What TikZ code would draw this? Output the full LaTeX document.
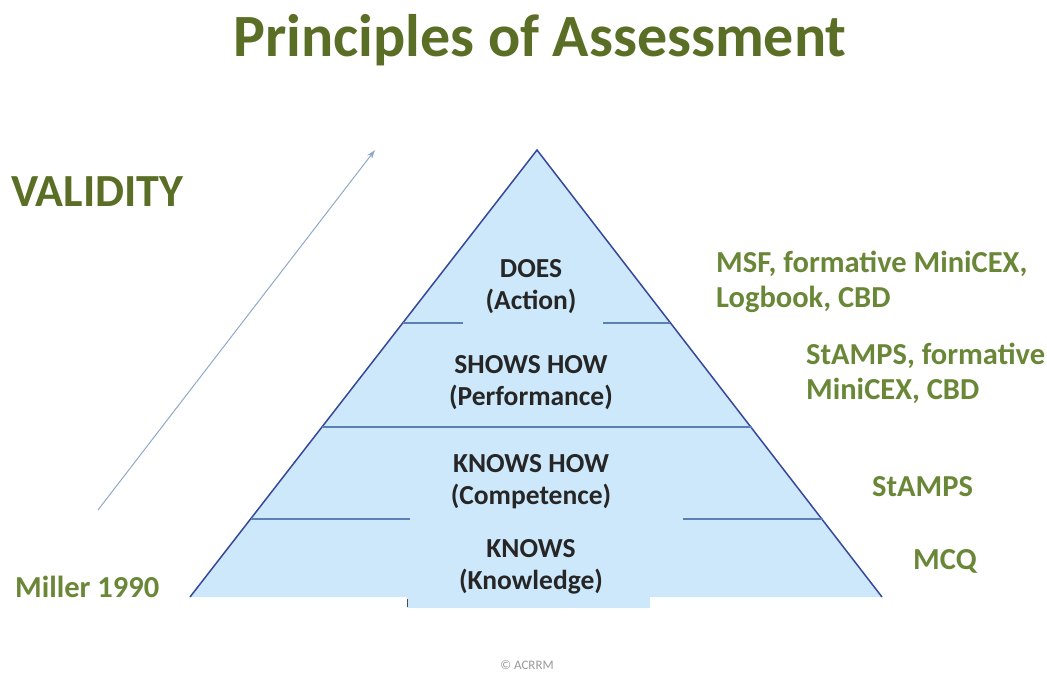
\documentclass[tikz,border=0pt]{standalone}
\usepackage{fontspec}
\setmainfont{Carlito}
\usetikzlibrary{arrows.meta}
\definecolor{titlegreen}{HTML}{5A6F25}
\definecolor{labgreen}{HTML}{6A8738}
\definecolor{pyrfill}{HTML}{CDE8FA}
\definecolor{pyredge}{HTML}{36489A}
\definecolor{divline}{HTML}{5A80B6}
\definecolor{arrowc}{HTML}{90A9C9}
\tikzset{
  pyrtext/.style={font=\bfseries\fontsize{27.5}{32}\selectfont, text=black!85, align=center, inner sep=0pt},
  sidetext/.style={font=\bfseries\fontsize{30.5}{35}\selectfont, text=labgreen, align=left, inner sep=0pt, anchor=west},
  divider/.style={draw=divline, line width=1.3pt},
}
\begin{document}
\begin{tikzpicture}[x=1pt,y=-1pt]
\useasboundingbox (0,0) rectangle (1047,678);
% title
\node[font=\bfseries\fontsize{60}{70}\selectfont, text=titlegreen, inner sep=0pt] (title) at (540,40) {Principles of Assessment};
\node[font=\bfseries\fontsize{46}{52}\selectfont, text=titlegreen, inner sep=0pt, anchor=west] (validity) at (11,192) {VALIDITY};
% arrow
\coordinate (arrA) at (98,510);
\coordinate (arrB) at (375,150);
\draw[arrowc, line width=1pt, -{Stealth[length=9pt,width=6pt]}] (arrA) -- (arrB);
% pyramid
\coordinate (apex) at (537,150);
\coordinate (bl) at (190,597);
\coordinate (br) at (882,597);
\fill[pyrfill] (407,596) rectangle (650,608);
\draw[pyredge, line width=1.5pt, fill=pyrfill, line join=miter] (bl) -- (apex) -- (br);
% dividers
\coordinate (d1l) at (403,323); \coordinate (d1a) at (463,323);
\coordinate (d1b) at (603,323); \coordinate (d1r) at (670,323);
\draw[divider] (d1l) -- (d1a);
\draw[divider] (d1b) -- (d1r);
\coordinate (d2l) at (322,427); \coordinate (d2r) at (752,427);
\draw[divider] (d2l) -- (d2r);
\coordinate (d3l) at (251,519); \coordinate (d3a) at (410,519);
\coordinate (d3b) at (683,519); \coordinate (d3r) at (823,519);
\draw[divider] (d3l) -- (d3a);
\draw[divider] (d3b) -- (d3r);
\coordinate (tick1) at (407,599); \coordinate (tick2) at (407,607);
\draw[black!70, line width=1pt] (tick1) -- (tick2);
% pyramid texts
\node[pyrtext] (does) at (531,287) {DOES\\(Action)};
\node[pyrtext] (shows) at (531,383) {SHOWS HOW\\(Performance)};
\node[pyrtext] (knowshow) at (531,482) {KNOWS HOW\\(Competence)};
\node[pyrtext] (knows) at (531,567) {KNOWS\\(Knowledge)};
% side labels
\node[sidetext] (lab1) at (716,282) {MSF, formative MiniCEX,\\Logbook, CBD};
\node[sidetext] (lab2) at (806,373) {StAMPS, formative\\MiniCEX, CBD};
\node[sidetext] (lab3) at (872,487) {StAMPS};
\node[sidetext] (lab4) at (913,561) {MCQ};
\node[sidetext] (miller) at (15,587) {Miller 1990};
\node[font=\fontsize{13}{15}\selectfont, text=black!40, inner sep=0pt] (copy) at (527,665) {© ACRRM};
\end{tikzpicture}
\end{document}
